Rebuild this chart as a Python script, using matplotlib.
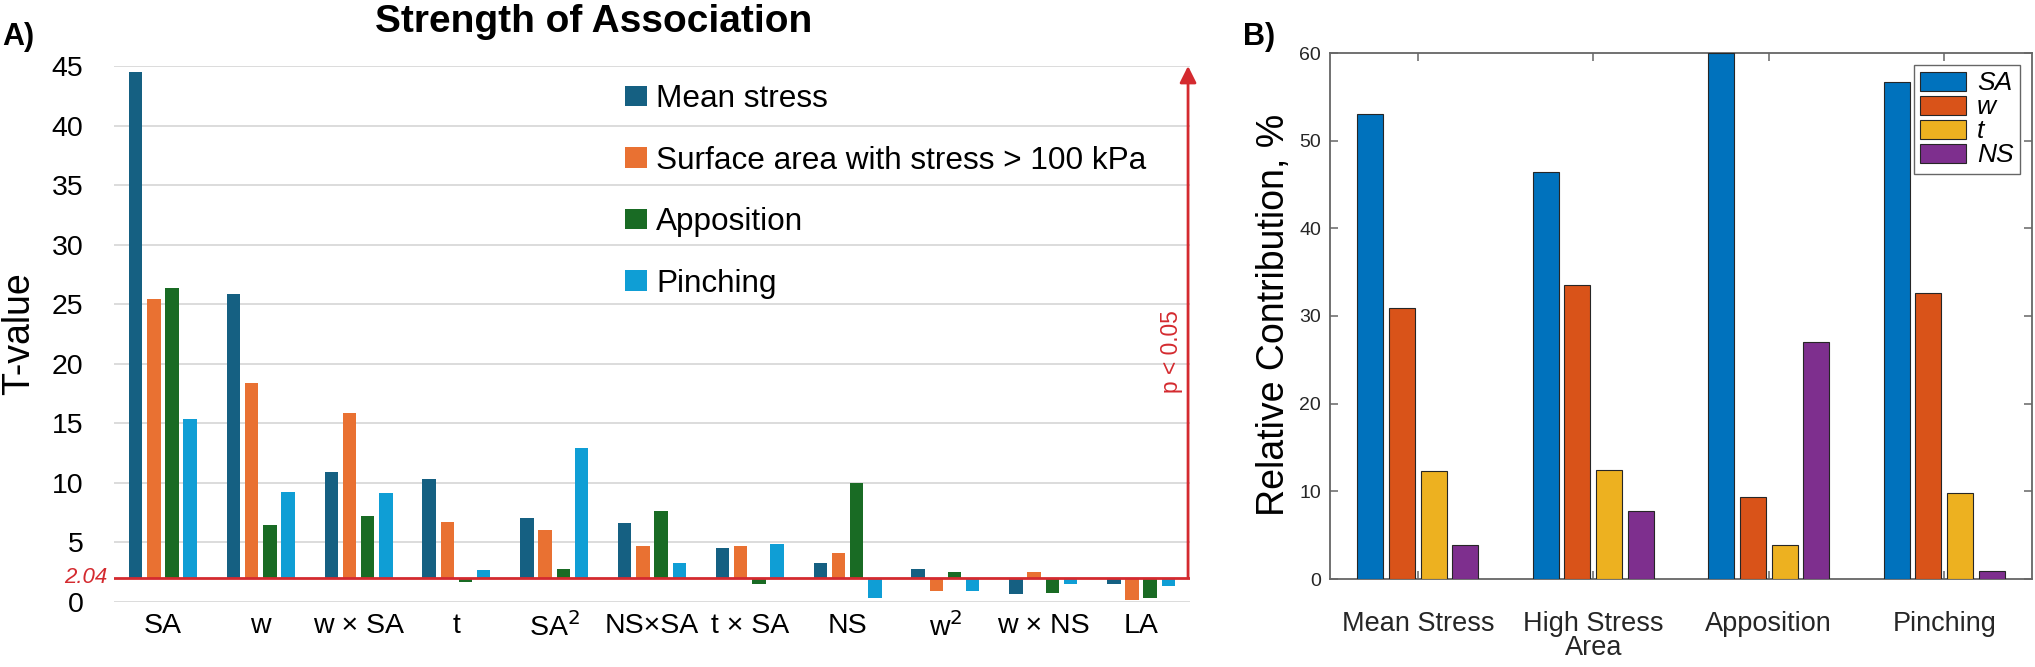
import numpy as np
import matplotlib.pyplot as plt
from matplotlib import font_manager

names = {f.name for f in font_manager.fontManager.ttflist}
SANS = 'Liberation Sans' if 'Liberation Sans' in names else 'DejaVu Sans'
NARROW = 'Liberation Sans Narrow' if 'Liberation Sans Narrow' in names else SANS
plt.rcParams['font.family'] = SANS

# ---- panel A data: T-values per model term ----
terms = ['SA', 'w', 'w × SA', 't', 'SA$^2$', 'NS×SA', 't × SA', 'NS', 'w$^2$', 'w × NS', 'LA']
mean_stress = [44.5, 25.85, 10.9, 10.3, 7.06, 6.64, 4.56, 3.25, 2.8, 0.64, 1.51]
surface_area = [25.4, 18.4, 15.9, 6.75, 6.02, 4.7, 4.7, 4.14, 0.92, 2.52, 0.2]
apposition = [26.4, 6.47, 7.2, 1.65, 2.8, 7.64, 1.51, 10.0, 2.52, 0.78, 0.36]
pinching = [15.4, 9.24, 9.13, 2.69, 12.94, 3.25, 4.87, 0.36, 0.92, 1.51, 1.37]
series_a = ['Mean stress', 'Surface area with stress > 100 kPa', 'Apposition', 'Pinching']
t_crit = 2.04
yticks_a = [0, 5, 10, 15, 20, 25, 30, 35, 40, 45]

# ---- panel B data: relative contribution (%) ----
outcomes = ['Mean Stress', 'High Stress\nArea', 'Apposition', 'Pinching']
sa = [53.0, 46.4, 60.0, 56.7]
w = [30.9, 33.5, 9.33, 32.6]
t = [12.3, 12.45, 3.84, 9.82]
ns = [3.9, 7.7, 27.0, 0.92]
series_b = ['SA', 'w', 't', 'NS']

cols_a = ['#156082', '#e97132', '#196b24', '#0f9ed5']
cols_b = ['#0072bd', '#d95319', '#edb120', '#7e2f8e']
red = '#d42a2f'

fig = plt.figure(figsize=(20.35, 6.67), dpi=100)

# ================= A =================
ax = fig.add_axes([114/2035, 1-602/667, 1076/2035, 536/667])
x = np.arange(len(terms))
for j, vals in enumerate([mean_stress, surface_area, apposition, pinching]):
    vals = np.array(vals)
    ax.bar(x + (j-1.5)*0.186, vals - t_crit, bottom=t_crit, width=0.137,
           color=cols_a[j], label=series_a[j], zorder=3)

ax.set_xlim(-0.5, 10.5)
ax.set_ylim(0, 45)
ax.set_yticks(yticks_a)
ax.set_xticks(x)
ax.set_xticklabels(terms)
ax.yaxis.grid(True, color='#d9d9d9', lw=1.3, zorder=0)
for s in ax.spines.values():
    s.set_visible(False)
ax.tick_params(axis='x', length=0, pad=7.6, labelsize=20.5)
ax.tick_params(axis='y', length=0, pad=22, labelsize=20.5)

ax.axhline(t_crit, color=red, lw=2, zorder=4)
ax.text(-0.006, t_crit, '2.04', transform=ax.get_yaxis_transform(), ha='right', va='center',
        color=red, style='italic', fontsize=16)
ax.annotate('', xy=(10.48, 45), xytext=(10.48, t_crit),
            arrowprops=dict(arrowstyle='-|>', color=red, lw=2, mutation_scale=25,
                            shrinkA=0, shrinkB=0), zorder=5)
ax.text(1171/2035, 1-351.5/667, 'p < 0.05', transform=fig.transFigure, rotation=90,
        ha='center', va='center', color=red, fontsize=16.4)

ax.set_ylabel('T-value', fontsize=27)
ax.yaxis.set_label_coords(37/2035, 1-334/667, transform=fig.transFigure)

ax.legend(loc='upper left', bbox_to_anchor=(625/2035, 1-84/667), bbox_transform=fig.transFigure,
          frameon=False, fontsize=22.7, handlelength=0.7, handleheight=0.63,
          handletextpad=0.29, labelspacing=1.0, borderpad=0, borderaxespad=0)

fig.text(594/2035, 1-32/667, 'Strength of Association', ha='center', va='baseline',
         fontsize=28, fontweight='bold')
fig.text(2/2035, 1-45/667, 'A)', ha='left', va='baseline', fontsize=22, fontweight='bold')

# ================= B =================
bx = fig.add_axes([1330/2035, 1-579/667, 702/2035, 526/667])
xb = np.arange(1, len(outcomes)+1)
for j, vals in enumerate([sa, w, t, ns]):
    bx.bar(xb + (j-1.5)*0.181, vals, width=0.147, color=cols_b[j], edgecolor='#262626',
           lw=0.8, label=series_b[j], zorder=3)
bx.set_xlim(0.5, 4.5)
bx.set_ylim(0, 60)
bx.set_yticks(range(0, 61, 10))
bx.set_xticks(xb)
for s in bx.spines.values():
    s.set_color('#666666')
    s.set_linewidth(1.3)
bx.tick_params(direction='in', length=5.8, width=1.1, color='#666666', top=True, right=True,
               labelcolor='#262626')
bx.tick_params(axis='x', pad=23)
bx.tick_params(axis='y', pad=6.5, labelsize=14)
bx.set_xticklabels(outcomes, fontsize=23 if NARROW != SANS else 19.5, family=NARROW)
for lab in bx.get_xticklabels():
    lab.set_linespacing(0.9)
bx.set_ylabel('Relative Contribution, %', fontsize=27)
bx.yaxis.set_label_coords(1292/2035, 1-315/667, transform=fig.transFigure)

leg = bx.legend(loc='upper right', prop=dict(style='italic', size=19),
                handlelength=1.75, handleheight=0.72, handletextpad=0.4, labelspacing=0.0,
                borderpad=0.25, borderaxespad=0.45, fancybox=False, framealpha=1,
                edgecolor='#666666')
leg.get_frame().set_linewidth(1.0)

fig.text(1243/2035, 1-45/667, 'B)', ha='left', va='baseline', fontsize=22, fontweight='bold')

fig.savefig('out.png', dpi=100)
